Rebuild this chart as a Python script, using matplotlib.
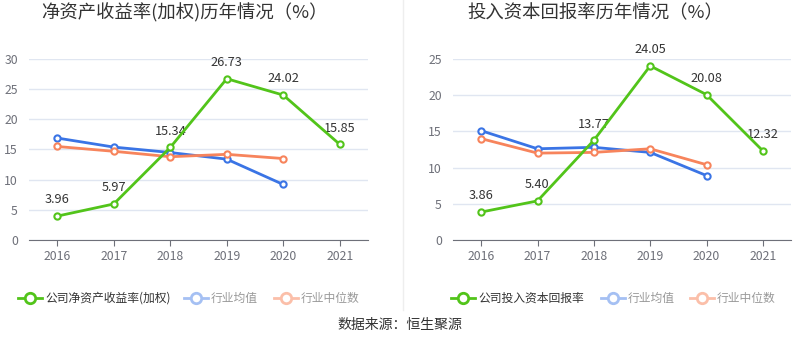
import matplotlib.pyplot as plt
from matplotlib.lines import Line2D

plt.rcParams['font.family'] = ['Noto Sans CJK SC', 'DejaVu Sans']

years = ["2016", "2017", "2018", "2019", "2020", "2021"]

roe_company = [3.96, 5.97, 15.34, 26.73, 24.02, 15.85]
roe_ind_mean = [16.9, 15.4, 14.5, 13.4, 9.2]
roe_ind_median = [15.5, 14.7, 13.8, 14.2, 13.5]

roic_company = [3.86, 5.40, 13.77, 24.05, 20.08, 12.32]
roic_ind_mean = [15.1, 12.6, 12.8, 12.1, 8.9]
roic_ind_median = [14.0, 12.0, 12.1, 12.6, 10.4]

GREEN = "#52c41a"
BLUE = "#3a74e5"
ORANGE = "#f7845c"
W, H = 800, 358


def px(x, y):
    return x / W, 1 - y / H


def draw_panel(ax, company, mean, median, ymax):
    x = list(range(len(years)))
    ax.plot(x[:len(mean)], mean, color=BLUE, lw=2, marker="o", ms=4.5,
            mfc="white", mec=BLUE, mew=1.5, zorder=3)
    ax.plot(x[:len(median)], median, color=ORANGE, lw=2, marker="o", ms=4.5,
            mfc="white", mec=ORANGE, mew=1.5, zorder=3)
    ax.plot(x, company, color=GREEN, lw=2, marker="o", ms=4.5,
            mfc="white", mec=GREEN, mew=1.5, zorder=4)
    for i, v in enumerate(company):
        ax.annotate(f"{v:.2f}", (i, v), xytext=(0, 7), textcoords="offset points",
                    ha="center", va="bottom", fontsize=9.2, color="#333333")
    ax.set_xlim(-0.5, len(years) - 0.5)
    ax.set_ylim(0, ymax)
    ax.set_yticks(range(0, ymax + 1, 5))
    ax.set_xticks(x)
    ax.set_xticklabels(years)
    ax.grid(axis="y", color="#e0e6f1", lw=1)
    ax.set_axisbelow(True)
    for s in ["top", "right", "left"]:
        ax.spines[s].set_visible(False)
    ax.spines["bottom"].set_color("#6e7079")
    ax.tick_params(axis="y", length=0, labelsize=8.8, labelcolor="#6e7079", pad=8)
    ax.tick_params(axis="x", length=4, color="#6e7079", labelsize=8.8,
                   labelcolor="#6e7079")


def legend_entry(fig, xi, y, color, label, tcolor):
    x0, yy = px(xi - 12, y)
    x1, _ = px(xi + 12, y)
    xc, _ = px(xi, y)
    fig.add_artist(Line2D([x0, x1], [yy, yy], color=color, lw=2, transform=fig.transFigure))
    fig.add_artist(Line2D([xc], [yy], color=color, marker="o", ms=7.5, mfc="white",
                          mec=color, mew=2, transform=fig.transFigure))
    tx, _ = px(xi + 15, y)
    fig.text(tx, yy, label, fontsize=8.5, color=tcolor, va="center", ha="left")


fig = plt.figure(figsize=(8, 3.58), dpi=100)

ax1 = fig.add_axes([29 / W, 118 / H, 339 / W, 181 / H])
draw_panel(ax1, roe_company, roe_ind_mean, roe_ind_median, 30)
ax2 = fig.add_axes([453 / W, 118 / H, 338 / W, 181 / H])
draw_panel(ax2, roic_company, roic_ind_mean, roic_ind_median, 25)

fig.text(*px(184, 13), "净资产收益率(加权)历年情况（%）", fontsize=13.2, color="#333333",
         ha="center", va="center")
fig.text(*px(595, 13), "投入资本回报率历年情况（%）", fontsize=13.2, color="#333333",
         ha="center", va="center")

fig.add_artist(Line2D([403 / W, 403 / W], [1 - 310 / H, 1], color="#eeeeee", lw=1,
                      transform=fig.transFigure))

legend_entry(fig, 30, 298, GREEN, "公司净资产收益率(加权)", "#333333")
legend_entry(fig, 196, 298, "#a5c0f3", "行业均值", "#999999")
legend_entry(fig, 286, 298, "#fbbfa9", "行业中位数", "#999999")
legend_entry(fig, 463, 298, GREEN, "公司投入资本回报率", "#333333")
legend_entry(fig, 613, 298, "#a5c0f3", "行业均值", "#999999")
legend_entry(fig, 702, 298, "#fbbfa9", "行业中位数", "#999999")

fig.text(*px(400, 325), "数据来源：恒生聚源", fontsize=10, color="#333333",
         ha="center", va="center")

fig.savefig("out.png", dpi=100)
